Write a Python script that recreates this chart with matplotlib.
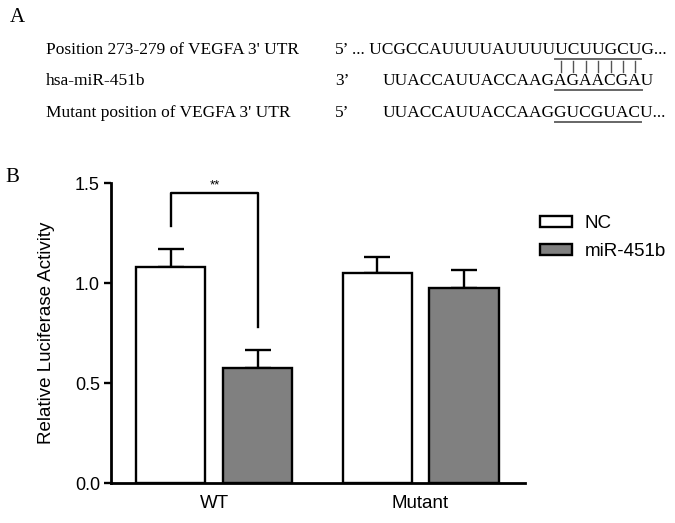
import numpy as np
import matplotlib
matplotlib.use('Agg')
import matplotlib.pyplot as plt
from matplotlib.patches import Patch
from matplotlib.lines import Line2D
from matplotlib.font_manager import FontProperties

# bar chart data (panel B)
groups = ['WT', 'Mutant']
series = ['NC', 'miR-451b']
nc_values = [1.08, 1.05]
nc_errors = [0.09, 0.08]
mir_values = [0.575, 0.975]
mir_errors = [0.09, 0.09]
y_ticks = [0.0, 0.5, 1.0, 1.5]

# sequence alignment text (panel A)
seq_labels = ["Position 273-279 of VEGFA 3' UTR", "hsa-miR-451b", "Mutant position of VEGFA 3' UTR"]
seq_ends = ["5\u2019", "3\u2019", "5\u2019"]
seq_parts = [("... UCGCCAUUUUAUUUU", "UCUUGCU", "G..."),
             ("UUACCAUUACCAAG", "AGAACGA", "U"),
             ("UUACCAUUACCAAG", "GUCGUAC", "U...")]

W, H = 675, 523
fig = plt.figure(figsize=(W / 100, H / 100), dpi=100)
fig.patch.set_facecolor('white')


def fx(x):
    return x / W


def fy(y):
    return 1 - y / H


serif_size = 12.5
serif = dict(family='Liberation Serif', fontsize=serif_size)
sans = 'Liberation Sans'

# ---- panel A ----
fig.text(fx(10), fy(22), 'A', family='Liberation Serif', fontsize=15, va='baseline')
renderer = fig.canvas.get_renderer()
prop = FontProperties(family='Liberation Serif', size=serif_size)


def text_w(s):
    if not s:
        return 0
    return renderer.get_text_width_height_descent(s, prop, False)[0]


baselines = [54, 85, 117]
anchor_x = 555
for i, (label, end, parts) in enumerate(zip(seq_labels, seq_ends, seq_parts)):
    base = baselines[i]
    fig.text(fx(46), fy(base), label, va='baseline', **serif)
    fig.text(fx(335), fy(base), end, va='baseline', **serif)
    pre, mid, post = parts
    x_start = anchor_x - text_w(pre)
    fig.text(fx(x_start), fy(base), pre + mid + post, ha='left', va='baseline', **serif)
    x0 = anchor_x
    x1 = x_start + text_w(pre + mid)
    fig.add_artist(Line2D([fx(x0), fx(x1)], [fy(base + 5)] * 2,
                          transform=fig.transFigure, color='#666666', lw=1.4))
    if i == 0:
        # base pairing ticks under each letter of the seed
        for k in range(len(mid)):
            w0 = text_w(pre + mid[:k])
            w1 = text_w(pre + mid[:k + 1])
            xc = x_start + (w0 + w1) / 2
            fig.add_artist(Line2D([fx(xc), fx(xc)], [fy(61), fy(72)],
                                  transform=fig.transFigure, color='#555555', lw=1.0))

# ---- panel B ----
fig.text(fx(5), fy(182), 'B', family='Liberation Serif', fontsize=15, va='baseline')

ax = fig.add_axes([fx(111), fy(483), 414 / W, 300 / H])
x = np.arange(len(groups))
off = 0.211
width = 0.335
lw = 1.7

ax.bar(x - off, nc_values, width, color='white', edgecolor='black', linewidth=lw, zorder=3)
ax.bar(x + off, mir_values, width, color='#808080', edgecolor='black', linewidth=lw, zorder=3)
ax.errorbar(x - off, nc_values, yerr=[np.zeros(len(groups)), nc_errors], fmt='none',
            ecolor='black', elinewidth=lw, capsize=9.7, capthick=lw, zorder=2)
ax.errorbar(x + off, mir_values, yerr=[np.zeros(len(groups)), mir_errors], fmt='none',
            ecolor='black', elinewidth=lw, capsize=9.7, capthick=lw, zorder=2)

# significance bracket
ax.plot([-off, -off, off, off], [1.285, 1.45, 1.45, 0.78], color='black', lw=lw, clip_on=False)
ax.text(0, 1.458, '**', ha='center', va='bottom', fontsize=9.5, family=sans)

ax.set_xlim(-0.502, 1.507)
ax.set_ylim(0, 1.5)
ax.set_yticks(y_ticks)
ax.set_yticklabels([f'{v:.1f}' for v in y_ticks], family=sans)
ax.set_xticks(x)
ax.set_xticklabels(groups, family=sans)
ax.tick_params(axis='y', length=5, width=lw, labelsize=13, pad=3)
ax.tick_params(axis='x', length=0, labelsize=13.5, pad=9)
for s in ['top', 'right']:
    ax.spines[s].set_visible(False)
for s in ['left', 'bottom']:
    ax.spines[s].set_linewidth(2)
ax.set_ylabel('Relative Luciferase Activity', family=sans, fontsize=13.5)
ax.yaxis.set_label_coords(-0.135, 0.5)

handles = [Patch(facecolor='white', edgecolor='black', linewidth=lw),
           Patch(facecolor='#808080', edgecolor='black', linewidth=lw)]
ax.legend(handles=handles, labels=series, loc='upper left',
          bbox_to_anchor=(fx(540), fy(215)), bbox_transform=fig.transFigure,
          frameon=False, borderpad=0, borderaxespad=0, handlelength=1.7,
          handleheight=0.5, handletextpad=0.7, labelspacing=0.6,
          prop=FontProperties(family=sans, size=13.5))

fig.savefig('out.png', dpi=100)
